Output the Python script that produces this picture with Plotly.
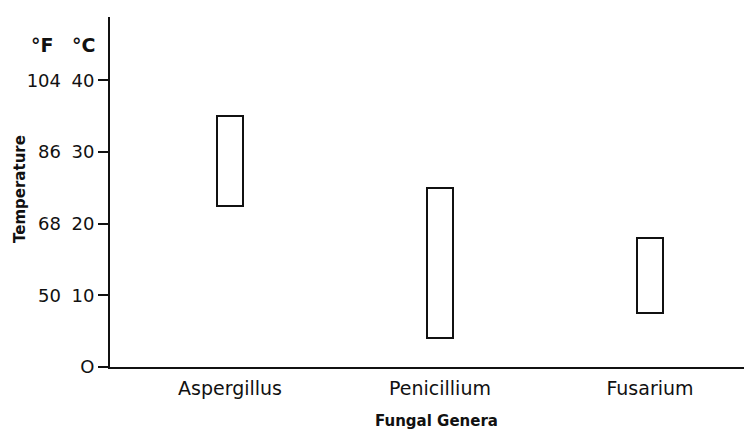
import plotly.graph_objects as go

# Data: temperature ranges (°C) for fungal genera
genera = ["Aspergillus", "Penicillium", "Fusarium"]
temp_low_c = [22.5, 4, 7.5]
temp_high_c = [35, 25, 18]

# Axis ticks
c_tickvals = [0, 10, 20, 30, 40]
c_ticktext = ["O", "10", "20", "30", "40"]
f_tickvals = [50, 68, 86, 104]
f_ticktext = ["50", "68", "86", "104"]

OFF = 8  # page body margin
W, H = 752 - OFF, 433 - OFF
ML, MR, MT, MB = 0, 0, 17 - OFF, 66
PH = H - MT - MB
YMAX = 48.83

FONT = "DejaVu Sans, Verdana, Arial, sans-serif"
INK = "#111111"

heights = [h - l for h, l in zip(temp_high_c, temp_low_c)]

fig = go.Figure()
fig.add_trace(go.Bar(
    x=genera, y=heights, base=temp_low_c, width=0.125,
    marker=dict(color="white", line=dict(color=INK, width=2)),
    showlegend=False, hoverinfo="skip",
))
# empty trace to bind the °F axis
fig.add_trace(go.Scatter(x=[], y=[], yaxis="y2", showlegend=False))

def px_x(p):
    return (p - OFF - ML) / (W - ML - MR)

def px_y(p):
    return (H - MB - (p - OFF)) / PH

fig.update_layout(
    width=W, height=H,
    margin=dict(l=ML, r=MR, t=MT, b=MB),
    paper_bgcolor="white", plot_bgcolor="white",
    bargap=0,
    xaxis=dict(
        domain=[(110 - OFF) / W, 1], range=[-0.5714, 2.4857],
        showline=True, linecolor=INK, linewidth=2,
        ticks="", showgrid=False, zeroline=False,
        tickfont=dict(family=FONT, size=19, color=INK),
        ticklabelstandoff=3, automargin=False,
    ),
    yaxis=dict(
        range=[0, YMAX], anchor="x",
        tickvals=c_tickvals, ticktext=c_ticktext,
        ticks="outside", ticklen=10, tickwidth=2, tickcolor=INK,
        showline=True, linecolor=INK, linewidth=2,
        showgrid=False, zeroline=False,
        tickfont=dict(family=FONT, size=18, color=INK),
        automargin=False,
    ),
    yaxis2=dict(
        overlaying="y", anchor="free", position=(61 - OFF) / W, side="left",
        range=[32, 32 + 1.8 * YMAX],
        tickvals=f_tickvals, ticktext=f_ticktext,
        ticks="", showline=False, showgrid=False, zeroline=False,
        tickfont=dict(family=FONT, size=18, color=INK),
        automargin=False,
    ),
    annotations=[
        dict(text="<b>°F</b>", xref="paper", yref="paper",
             x=px_x(55), y=px_y(45), xanchor="right", yanchor="middle",
             showarrow=False, font=dict(family=FONT, size=19, color=INK)),
        dict(text="<b>°C</b>", xref="paper", yref="paper",
             x=px_x(97), y=px_y(45), xanchor="right", yanchor="middle",
             showarrow=False, font=dict(family=FONT, size=19, color=INK)),
        dict(text="<b>Temperature</b>", xref="paper", yref="paper",
             x=px_x(20), y=px_y(189), xanchor="center", yanchor="middle",
             textangle=-90, showarrow=False,
             font=dict(family=FONT, size=15, color=INK)),
        dict(text="<b>Fungal Genera</b>", xref="paper", yref="paper",
             x=px_x(436), y=px_y(421), xanchor="center", yanchor="middle",
             showarrow=False, font=dict(family=FONT, size=15, color=INK)),
    ],
)

fig.write_html("out.html")
